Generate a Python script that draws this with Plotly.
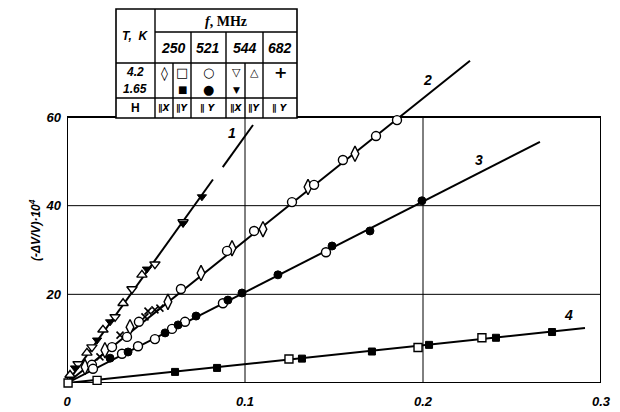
import plotly.graph_objects as go

# ---------------- data ----------------
# fitted straight lines (x, y end points)
line1_x = [0.0, 0.082, None, 0.0875, 0.1045]
line1_y = [0.0, 45.9, None, 48.7, 58.2]
line2_x = [0.0, 0.2264]
line2_y = [0.0, 72.7]
line3_x = [0.0, 0.2657]
line3_y = [0.0, 54.4]
line4_x = [0.0, 0.291]
line4_y = [0.0, 12.4]

# line 1 : 544 MHz
tri_down_open_x = [0.0062, 0.0140, 0.0270, 0.0365, 0.0494, 0.0652]
tri_down_open_y = [4.3, 8.1, 14.9, 21.2, 26.8, 36.3]
tri_up_open_x = [0.0017, 0.0112, 0.0202, 0.0315, 0.0421]
tri_up_open_y = [1.8, 6.8, 12.0, 18.0, 24.4]
tri_down_fill_x = [0.0045, 0.0169, 0.0242, 0.0449, 0.0652, 0.0758]
tri_down_fill_y = [3.4, 9.7, 13.8, 25.7, 36.0, 42.0]

# line 2
circ_open2_x = [0.014, 0.0253, 0.0337, 0.0404, 0.064, 0.0899, 0.1051, 0.1264, 0.1388, 0.155, 0.1736, 0.1854]
circ_open2_y = [4.1, 8.1, 10.4, 13.8, 21.2, 29.8, 34.3, 40.8, 44.7, 50.3, 55.7, 59.3]
diam2_x = [0.0101, 0.0213, 0.0354, 0.0567, 0.0753, 0.0927, 0.1101, 0.1354, 0.1618]
diam2_y = [3.6, 7.4, 12.6, 18.3, 24.8, 30.4, 34.7, 44.2, 51.7]
cross2_x = [0.0185, 0.0298, 0.0438, 0.0455, 0.0494, 0.0522]
cross2_y = [5.9, 10.8, 14.9, 16.2, 16.5, 16.9]

# line 3
circ_open3_x = [0.0146, 0.0309, 0.0399, 0.0494, 0.059, 0.0663, 0.0876, 0.1455]
circ_open3_y = [3.2, 6.6, 8.3, 9.9, 12.2, 13.8, 18.0, 29.5]
circ_fill3_x = [0.0242, 0.0343, 0.0551, 0.0624, 0.0725, 0.0904, 0.0983, 0.1185, 0.1489, 0.1702, 0.1994]
circ_fill3_y = [5.6, 7.0, 11.3, 13.1, 15.1, 18.7, 20.3, 24.4, 30.9, 34.3, 41.1]

# line 4
sq_open4_x = [0.0006, 0.0169, 0.1247, 0.1972, 0.2331]
sq_open4_y = [0.0, 0.6, 5.4, 8.0, 10.2]
sq_fill4_x = [0.0607, 0.0843, 0.132, 0.1713, 0.2034, 0.241, 0.2725]
sq_fill4_y = [2.5, 3.4, 5.5, 7.1, 8.6, 10.2, 11.5]

x_ticks = [0, 0.1, 0.2, 0.3]
x_ticktext = ["0", "0.1", "0.2", "0.3"]
y_ticks = [20, 40, 60]
y_ticktext = ["20", "40", "60"]
line_labels = ["1", "2", "3", "4"]

# ---------------- layout helpers (window pixel coords) ----------------
OFF = 8                      # default body margin of the html page
WIN_W, WIN_H = 620, 412
PL, PR, PT, PB = 67, 601, 8, 383   # plot area edges in window px
W, H = WIN_W - OFF, WIN_H - OFF
XMAX = 0.3
PXX = (PR - PL) / XMAX
PXY = 266 / 60.0
YMAX = (PB - PT) / PXY


def X(px):
    return (px - PL) / PXX


def Y(py):
    return (PB - py) / PXY


fig = go.Figure()

lw = 2
for xs, ys in [(line1_x, line1_y), (line2_x, line2_y), (line3_x, line3_y), (line4_x, line4_y)]:
    fig.add_trace(go.Scatter(x=xs, y=ys, mode="lines", line=dict(color="black", width=lw),
                             connectgaps=False, hoverinfo="skip"))

open_m = dict(color="white", line=dict(color="black", width=1.4))
fill_m = dict(color="black", line=dict(color="black", width=1))

series = [
    (cross2_x, cross2_y, dict(symbol="x-thin", size=7, line=dict(color="black", width=1.6))),
    (diam2_x, diam2_y, dict(symbol="diamond-tall", size=11, **open_m)),
    (circ_open2_x, circ_open2_y, dict(symbol="circle", size=9, **open_m)),
    (circ_open3_x, circ_open3_y, dict(symbol="circle", size=9, **open_m)),
    (circ_fill3_x, circ_fill3_y, dict(symbol="circle", size=8, **fill_m)),
    (sq_open4_x, sq_open4_y, dict(symbol="square", size=8, **open_m)),
    (sq_fill4_x, sq_fill4_y, dict(symbol="square", size=7, **fill_m)),
    (tri_up_open_x, tri_up_open_y, dict(symbol="triangle-up", size=9, **open_m)),
    (tri_down_open_x, tri_down_open_y, dict(symbol="triangle-down", size=9, **open_m)),
    (tri_down_fill_x, tri_down_fill_y, dict(symbol="triangle-down", size=8, **fill_m)),
]
for xs, ys, mk in series:
    fig.add_trace(go.Scatter(x=xs, y=ys, mode="markers", marker=mk, hoverinfo="skip", cliponaxis=False))

shapes = []
for gx in [0.1, 0.2]:
    shapes.append(dict(type="line", xref="x", yref="y", x0=gx, x1=gx, y0=0, y1=60,
                       line=dict(color="black", width=1), layer="below"))
for gy in [20, 40]:
    shapes.append(dict(type="line", xref="x", yref="y", x0=0, x1=0.3, y0=gy, y1=gy,
                       line=dict(color="black", width=1), layer="below"))
shapes.append(dict(type="rect", xref="x", yref="y", x0=0, x1=0.3, y0=0, y1=60,
                   line=dict(color="black", width=2), layer="below"))

# table
tl, tr, tt, tb = 116, 297, 9, 118
tw = 1.4
shapes.append(dict(type="rect", xref="x", yref="y", x0=X(tl), x1=X(tr), y0=Y(tb), y1=Y(tt),
                   fillcolor="white", line=dict(color="black", width=1.6), layer="above"))
hlines = [(155, 297, 32), (116, 297, 63), (116, 297, 98)]
for a, b, yy in hlines:
    shapes.append(dict(type="line", xref="x", yref="y", x0=X(a), x1=X(b), y0=Y(yy), y1=Y(yy),
                       line=dict(color="black", width=tw)))
vlines = [(155, 9, 118), (191, 32, 118), (226, 32, 118), (263, 32, 118), (173, 63, 118), (245, 63, 118)]
for xx, a, b in vlines:
    shapes.append(dict(type="line", xref="x", yref="y", x0=X(xx), x1=X(xx), y0=Y(a), y1=Y(b),
                       line=dict(color="black", width=tw)))

ann = []
fnt = "Liberation Sans Narrow, Liberation Sans, Arial"


def txt(px, py, s, size=12, family=fnt, bold=False, italic=True, **kw):
    ann.append(dict(x=X(px), y=Y(py), xref="x", yref="y", text=s, showarrow=False,
                    font=dict(size=size, family=family, color="black",
                              weight="bold" if bold else "normal",
                              style="italic" if italic else "normal"), **kw))


txt(135, 36, "T,  K", size=12, bold=True)
txt(226, 21, "<i>f</i>, MHz", size=14, family="Liberation Serif, serif", bold=True, italic=False)
for px, s in [(173, "250"), (208, "521"), (245, "544"), (280, "682")]:
    txt(px, 48, s, size=14, bold=True)
txt(135, 72, "4.2", size=12, bold=True)
txt(135, 89, "1.65", size=12, bold=True)
sym_font = "DejaVu Sans"
txt(164, 73, "◊", size=14, family=sym_font, italic=False)
txt(182, 72, "□", size=13, family=sym_font, italic=False)
txt(182, 89, "■", size=10, family=sym_font, italic=False)
txt(208, 72, "○", size=13, family=sym_font, italic=False)
txt(208, 89, "●", size=13, family=sym_font, italic=False)
txt(236, 72, "▽", size=11, family=sym_font, italic=False)
txt(236, 90, "▼", size=9, family=sym_font, italic=False)
txt(254, 72, "△", size=11, family=sym_font, italic=False)
txt(280, 72, "+", size=16, family=sym_font, italic=False, bold=True)
txt(135, 108, "H", size=12, bold=True, italic=False)
for px, s in [(164, "∥X"), (182, "∥Y"), (208, "∥ Y"), (236, "∥X"), (254, "∥Y"), (280, "∥ Y")]:
    txt(px, 108, s, size=9, family="DejaVu Sans", bold=True)

for (px, py), s in zip([(232, 133), (427, 80), (479, 160), (568, 315)], line_labels):
    txt(px, py, s, size=14, bold=True)

ann.append(dict(x=(25 - PL) / (PR - PL), y=(PB - 263) / (PB - PT), xref="paper", yref="paper",
                text="(-ΔV/V)·10<sup>4</sup>", textangle=-90, showarrow=False,
                font=dict(size=12, family=fnt, color="black", style="italic", weight="bold")))

tickfont = dict(size=13, family=fnt, color="black", style="italic", weight="bold")
fig.update_layout(
    width=W, height=H, autosize=False,
    margin=dict(l=PL - OFF, r=WIN_W - PR, t=PT - OFF, b=WIN_H - PB, pad=0),
    paper_bgcolor="white", plot_bgcolor="white",
    showlegend=False,
    shapes=shapes, annotations=ann,
    xaxis=dict(range=[0, XMAX], showgrid=False, zeroline=False, showline=False,
               tickvals=x_ticks, ticktext=x_ticktext, ticks="", tickfont=tickfont,
               ticklabelstandoff=9, fixedrange=True),
    yaxis=dict(range=[0, YMAX], showgrid=False, zeroline=False, showline=False,
               tickvals=y_ticks, ticktext=y_ticktext, ticks="", tickfont=tickfont,
               ticklabelstandoff=5, fixedrange=True),
)

fig.write_html("out.html")
